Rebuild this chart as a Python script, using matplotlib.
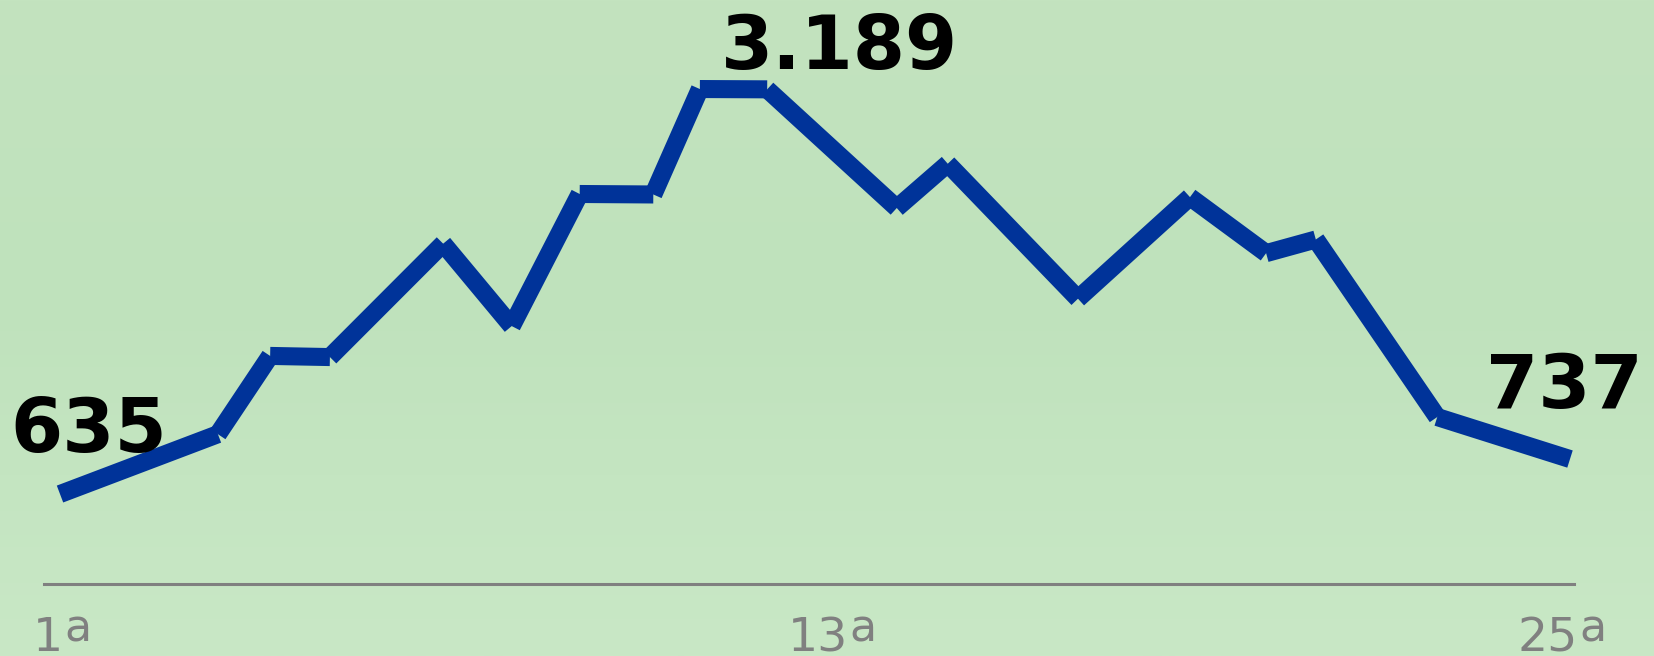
import numpy as np
import matplotlib
matplotlib.use("Agg")
import matplotlib.pyplot as plt
from matplotlib.colors import LinearSegmentedColormap

# rodada (posição no eixo) e valor de cada vértice da linha
rodadas = [1, 3.51, 4.34, 5.29, 7.09, 8.18, 9.26, 10.43, 11.17, 12.24,
           14.30, 15.11, 17.18, 18.96, 20.17, 20.96, 22.89, 25]
valores = [635, 806, 1101, 1096, 1722, 1240, 2099, 2095, 3189, 3185,
           1985, 2368, 1383, 2073, 1658, 1751, 863, 730]
rotulos_valor = ["635", "3.189", "737"]
destaques = [0, 8, 17]  # índices com valor escrito

rotulos_x = [1, 13, 25]

W, H, DPI = 1654, 656, 100
LINE_COLOR = "#003399"
GRAY = "#808080"

fig = plt.figure(figsize=(W / DPI, H / DPI), dpi=DPI)

# fundo em degradê
bg = fig.add_axes([0, 0, 1, 1], zorder=0)
cmap = LinearSegmentedColormap.from_list(
    "fundo", [(0, "#c3e3bf"), (0.45, "#bfe2bc"), (1, "#c9e8c6")])
bg.imshow(np.linspace(0, 1, 256).reshape(-1, 1), cmap=cmap, aspect="auto",
          extent=[0, 1, 0, 1])
bg.axis("off")

# eixo principal: linha de base em y=584px, de x=44 a x=1574
ax = fig.add_axes([44 / W, 72 / H, 1530 / W, 584 / H], zorder=1)
ax.patch.set_alpha(0)
ax.set_yscale("log")
px_rod = 1510 / 24
ax.set_xlim(1 - 16 / px_rod, 25 + 4 / px_rod)
ax.set_ylim(443.7, 4547)
for s in ["top", "left", "right"]:
    ax.spines[s].set_visible(False)
ax.spines["bottom"].set_color(GRAY)
ax.spines["bottom"].set_linewidth(2.2)
ax.set_xticks([])
ax.set_yticks([])
ax.yaxis.set_minor_locator(plt.NullLocator())

# segmentos desenhados um a um (pontas retas)
for i in range(len(rodadas) - 1):
    ax.plot(rodadas[i:i + 2], valores[i:i + 2], color=LINE_COLOR,
            linewidth=13, solid_capstyle="butt", clip_on=False)

offsets = [(-50, 42, "left"), (140, 20, "center"), (73, 51, "right")]
for i, txt, (dx, dy, ha) in zip(destaques, rotulos_valor, offsets):
    ax.annotate(txt, (rodadas[i], valores[i]),
                xytext=(dx, dy), textcoords="offset pixels",
                ha=ha, va="baseline", fontsize=54, fontweight="bold",
                color="black", family="DejaVu Sans")

# rótulos do eixo x: número + "a" sobrescrito
fig.canvas.draw()
renderer = fig.canvas.get_renderer()
desloc = {1: 2, 13: 17, 25: -8}
base_num, base_a = -67, -58
for r in rotulos_x:
    t = ax.annotate(str(r), (r, 0), xycoords=("data", "axes fraction"),
                    xytext=(0, base_num), textcoords="offset pixels",
                    ha="left", va="baseline", fontsize=34, color=GRAY)
    a = ax.annotate("a", (r, 0), xycoords=("data", "axes fraction"),
                    xytext=(0, base_a), textcoords="offset pixels",
                    ha="left", va="baseline", fontsize=32, color=GRAY)
    wt = t.get_window_extent(renderer).width
    wa = a.get_window_extent(renderer).width
    gap = 1
    total = wt + gap + wa
    x0 = -total / 2 + desloc[r]
    t.set_position((x0, base_num))
    a.set_position((x0 + wt + gap, base_a))

fig.savefig("out.png", dpi=DPI)
